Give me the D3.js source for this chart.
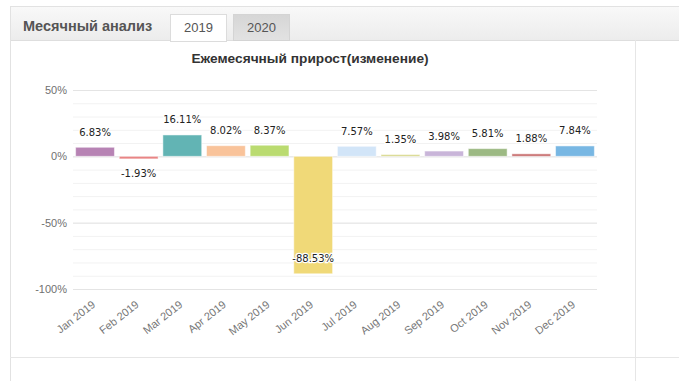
<!DOCTYPE html>
<html>
<head>
<meta charset="utf-8">
<script src="https://cdn.jsdelivr.net/npm/d3@7/dist/d3.min.js"></script>
<style>
  body { margin: 0; background: #fff; }
  svg { display: block; font-family: "Liberation Sans", Arial, sans-serif; }
</style>
</head>
<body>
<script>
const months = ["Jan 2019", "Feb 2019", "Mar 2019", "Apr 2019", "May 2019", "Jun 2019",
  "Jul 2019", "Aug 2019", "Sep 2019", "Oct 2019", "Nov 2019", "Dec 2019"];
const growth = [6.83, -1.93, 16.11, 8.02, 8.37, -88.53, 7.57, 1.35, 3.98, 5.81, 1.88, 7.84];
const barColors = ["#b783b4", "#e98585", "#62b4b4", "#f9c39a", "#badb70", "#f0d978",
  "#d2e5f8", "#d8d88c", "#c9b5d9", "#9cb983", "#c97272", "#78b7e3"];
const yTicks = [50, 0, -50, -100];
const minorTicks = d3.range(-100, 51, 10);
const tabs = ["2019", "2020"];

const W = 679, H = 381;
const svg = d3.select("body").append("svg").attr("width", W).attr("height", H);

const defs = svg.append("defs");
const gBar = defs.append("linearGradient").attr("id", "tabbar").attr("x1", 0).attr("y1", 0).attr("x2", 0).attr("y2", 1);
gBar.append("stop").attr("offset", "0%").attr("stop-color", "#f9f9f9");
gBar.append("stop").attr("offset", "100%").attr("stop-color", "#ececec");
const gTab = defs.append("linearGradient").attr("id", "tabgray").attr("x1", 0).attr("y1", 0).attr("x2", 0).attr("y2", 1);
gTab.append("stop").attr("offset", "0%").attr("stop-color", "#d6d6d6");
gTab.append("stop").attr("offset", "100%").attr("stop-color", "#e2e2e2");

// panel frame + tab bar
svg.append("rect").attr("x", 10).attr("y", 6).attr("width", W).attr("height", 34).attr("fill", "url(#tabbar)");
svg.append("line").attr("x1", 10).attr("x2", W).attr("y1", 6.5).attr("y2", 6.5).attr("stroke", "#e2e2e2");
svg.append("line").attr("x1", 10).attr("x2", W).attr("y1", 40.5).attr("y2", 40.5).attr("stroke", "#dedede");
svg.append("line").attr("x1", 10.5).attr("x2", 10.5).attr("y1", 6).attr("y2", H).attr("stroke", "#e2e2e2");
svg.append("line").attr("x1", 635.5).attr("x2", 635.5).attr("y1", 40).attr("y2", H).attr("stroke", "#e6e6e6");
svg.append("line").attr("x1", 10).attr("x2", W).attr("y1", 357.5).attr("y2", 357.5).attr("stroke", "#e6e6e6");

svg.append("text").attr("x", 23).attr("y", 31).attr("font-size", 14.5).attr("font-weight", "bold")
  .attr("fill", "#555").text("Месячный анализ");

const tabG = svg.selectAll("g.tab").data(tabs).join("g").attr("class", "tab")
  .attr("transform", (d, i) => `translate(${170 + i * 63},14)`);
tabG.append("rect").attr("x", 0.5).attr("y", 0.5).attr("width", 56).attr("height", (d, i) => i === 0 ? 27 : 26)
  .attr("fill", (d, i) => i === 0 ? "#fff" : "url(#tabgray)")
  .attr("stroke", (d, i) => i === 0 ? "#dcdcdc" : "#d4d4d4");
tabG.append("text").attr("x", 28.5).attr("y", 18).attr("text-anchor", "middle")
  .attr("font-size", 13).attr("fill", "#555").text(d => d);

// chart
const margin = { left: 73, right: 82, top: 90, bottom: 92 };
const x = d3.scaleBand().domain(months).range([margin.left, W - margin.right]).paddingInner(0.11).paddingOuter(0.06);
const y = d3.scaleLinear().domain([-100, 50]).range([289, 90]);

svg.append("text").attr("x", 310).attr("y", 63).attr("text-anchor", "middle")
  .attr("font-size", 13.7).attr("font-weight", "bold").attr("fill", "#333")
  .text("Ежемесячный прирост(изменение)");

const minor = svg.append("g").attr("transform", `translate(${margin.left},0)`)
  .call(d3.axisLeft(y).tickValues(minorTicks).tickSize(-(W - margin.right - margin.left)).tickFormat(""));
minor.select(".domain").remove();
minor.selectAll("line").attr("stroke", "#f2f2f2");

const yAxis = svg.append("g").attr("transform", `translate(${margin.left},0)`)
  .call(d3.axisLeft(y).tickValues(yTicks).tickSize(-(W - margin.right - margin.left)).tickPadding(6).tickFormat(d => d + "%"));
yAxis.select(".domain").remove();
yAxis.selectAll("line").attr("stroke", "#e4e4e4");
yAxis.selectAll("text").attr("font-size", 11).attr("fill", "#707070").attr("font-family", "Liberation Sans, Arial, sans-serif");

const xAxis = svg.append("g").attr("transform", `translate(0,${y(-100)})`)
  .call(d3.axisBottom(x).tickSize(0).tickPadding(0));
xAxis.select(".domain").remove();
xAxis.selectAll("text").attr("font-size", 11).attr("fill", "#777")
  .attr("font-family", "Liberation Sans, Arial, sans-serif")
  .attr("text-anchor", "end").attr("dy", 0).attr("y", 0)
  .attr("transform", "translate(1,17) rotate(-38)");

svg.append("g").selectAll("rect").data(growth).join("rect")
  .attr("x", (d, i) => x(months[i]))
  .attr("width", x.bandwidth())
  .attr("y", d => y(Math.max(0, d)))
  .attr("height", d => Math.abs(y(d) - y(0)))
  .attr("fill", (d, i) => barColors[i])
  .attr("stroke", "#fff").attr("stroke-opacity", 0.5).attr("stroke-width", 1);

svg.append("g").selectAll("text").data(growth).join("text")
  .attr("x", (d, i) => x(months[i]) + x.bandwidth() / 2)
  .attr("y", d => d >= 0 ? y(d) - 15 : (d < -50 ? y(d) - 15 : y(d) + 15))
  .attr("dy", "0.35em")
  .attr("text-anchor", "middle")
  .attr("font-family", "DejaVu Sans, sans-serif").attr("font-size", 10).attr("fill", "#222")
  .attr("stroke", "#fff").attr("stroke-width", 2.5).attr("paint-order", "stroke")
  .text(d => d.toFixed(2) + "%");
</script>
</body>
</html>
